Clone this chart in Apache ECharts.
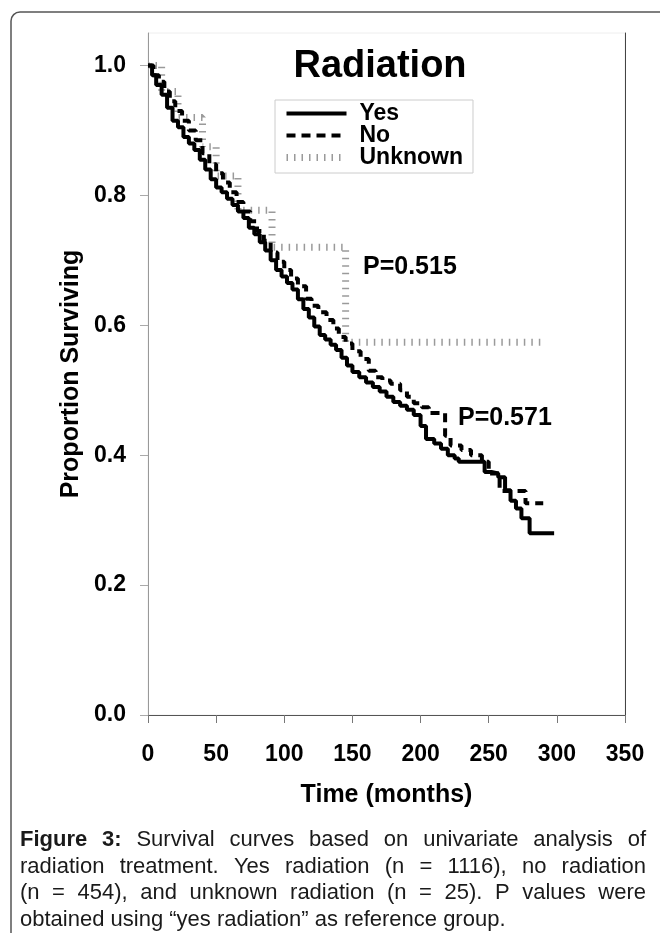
<!DOCTYPE html>
<html>
<head>
<meta charset="utf-8">
<script src="https://cdn.jsdelivr.net/npm/echarts@6/dist/echarts.min.js"></script>
<style>
  html, body { margin: 0; padding: 0; background: #fff; }
  #chart { width: 660px; height: 933px; }
</style>
</head>
<body>
<div id="chart"></div>
<script>
// tick values
var xTicks = [0, 50, 100, 150, 200, 250, 300, 350]
var yTicks = [0, 0.2, 0.4, 0.6, 0.8, 1.0]

// Kaplan-Meier curves (months, proportion surviving)
var yesTime = [0, 3, 6, 10, 14, 18, 22, 26, 30, 34, 38, 42, 46, 50, 54, 58, 62, 66, 70, 74, 78, 82, 86, 90, 94, 98, 102, 106, 110, 114, 118, 122, 126, 130, 134, 138, 142, 146, 150, 155, 160, 165, 170, 175, 180, 185, 190, 195, 200, 204, 210, 215, 220, 225, 228, 242, 247, 252, 257, 262, 266, 270, 274, 280, 298]
var yesSurv = [1.0, 0.985, 0.97, 0.955, 0.935, 0.915, 0.905, 0.89, 0.88, 0.87, 0.855, 0.84, 0.825, 0.812, 0.805, 0.795, 0.785, 0.775, 0.765, 0.75, 0.74, 0.728, 0.715, 0.7, 0.685, 0.675, 0.665, 0.655, 0.64, 0.625, 0.612, 0.598, 0.585, 0.578, 0.57, 0.562, 0.55, 0.538, 0.528, 0.52, 0.512, 0.505, 0.498, 0.49, 0.482, 0.476, 0.47, 0.462, 0.445, 0.425, 0.418, 0.41, 0.4, 0.395, 0.39, 0.39, 0.374, 0.372, 0.366, 0.346, 0.33, 0.318, 0.303, 0.28, 0.28]

var noTime = [0, 4, 8, 12, 16, 20, 25, 30, 35, 40, 45, 50, 55, 60, 65, 70, 75, 80, 85, 90, 95, 100, 105, 110, 116, 120, 125, 131, 136, 140, 145, 150, 156, 162, 167, 172, 178, 185, 190, 195, 201, 206, 218, 222, 230, 237, 245, 250, 258, 265, 277, 290]
var noSurv = [1.0, 0.985, 0.975, 0.96, 0.945, 0.93, 0.915, 0.9, 0.885, 0.865, 0.848, 0.834, 0.82, 0.805, 0.79, 0.775, 0.76, 0.745, 0.73, 0.712, 0.698, 0.685, 0.672, 0.66, 0.641, 0.63, 0.62, 0.608, 0.595, 0.582, 0.572, 0.56, 0.548, 0.53, 0.52, 0.515, 0.51, 0.5, 0.49, 0.48, 0.474, 0.465, 0.43, 0.415, 0.408, 0.4, 0.39, 0.372, 0.345, 0.345, 0.326, 0.326]

var unkTime = [0, 10, 22, 40, 50, 66, 91, 145, 288]
var unkSurv = [1.0, 0.96, 0.92, 0.875, 0.83, 0.777, 0.72, 0.574, 0.574]

var seriesNames = ['Yes', 'No', 'Unknown']
var pLabels = ['P=0.515', 'P=0.571']

var FONT = '"Liberation Sans", Arial, sans-serif'

// line looks, shared by the curves and their legend keys
var yesLine = { color: '#000', width: 4, type: 'solid' }
var noLine = { color: '#000', width: 4, type: [9, 6], cap: 'butt' }
var unkLine = { color: '#9a9a9a', width: 7, type: [1.5, 6], cap: 'butt' }

function pairs(t, v) {
  return t.map(function (x, i) { return [x, v[i]] })
}

// caption, justified like the journal layout
var captionLines = [
  [{ t: 'Figure 3:', b: true }, { t: 'Survival curves based on univariate analysis of' }],
  [{ t: 'radiation treatment. Yes radiation (n = 1116), no radiation' }],
  [{ t: '(n = 454), and unknown radiation (n = 25). P values were' }],
  [{ t: 'obtained using \u201cyes radiation\u201d as reference group.', last: true }]
]
var measure = document.createElement('canvas').getContext('2d')
function captionGraphics(x0, x1, y0, lineH, size) {
  var out = []
  captionLines.forEach(function (line, li) {
    var words = []
    line.forEach(function (seg) {
      seg.t.split(' ').forEach(function (w) { words.push({ w: w, b: !!seg.b, last: !!seg.last }) })
    })
    var total = 0
    words.forEach(function (o) {
      measure.font = (o.b ? 'bold ' : '') + size + 'px ' + FONT
      o.width = measure.measureText(o.w).width
      total += o.width
    })
    measure.font = size + 'px ' + FONT
    var space = measure.measureText(' ').width
    if (!words[0].last) space = (x1 - x0 - total) / (words.length - 1)
    var x = x0
    words.forEach(function (o) {
      out.push({
        type: 'text', x: x, y: y0 + li * lineH, silent: true,
        style: { text: o.w, font: (o.b ? 'bold ' : '') + size + 'px ' + FONT, fill: '#1a1a1a', textVerticalAlign: 'middle' }
      })
      x += o.width + space
    })
  })
  return out
}

var chart = echarts.init(document.getElementById('chart'))

var boldAxis = { fontSize: 23, fontWeight: 'bold', color: '#000', fontFamily: FONT }
var axisName = { fontSize: 25, fontWeight: 'bold', color: '#000', fontFamily: FONT }

chart.setOption({
  animation: false,
  backgroundColor: '#fff',
  grid: { left: 148, right: 35, top: 33, bottom: 218, show: true, borderColor: '#eee', borderWidth: 1 },
  legend: {
    left: 275, top: 100, orient: 'vertical',
    data: [
      { name: seriesNames[0], lineStyle: yesLine },
      { name: seriesNames[1], lineStyle: noLine },
      { name: seriesNames[2], lineStyle: unkLine }
    ],
    itemWidth: 60, itemHeight: 18, itemGap: -1,
    padding: [2, 10, 4, 8],
    borderColor: '#ccc', borderWidth: 1,
    itemStyle: { opacity: 0 },
    textStyle: { fontSize: 23, fontWeight: 'bold', color: '#000', fontFamily: FONT, padding: [0, 0, 0, 8] }
  },
  xAxis: {
    type: 'value', min: 0, max: 350, interval: 50,
    name: 'Time (months)', nameLocation: 'middle', nameGap: 68,
    nameTextStyle: axisName,
    axisLine: { lineStyle: { color: '#555', width: 1 } },
    axisTick: { length: 8, lineStyle: { color: '#777' }, customValues: xTicks },
    axisLabel: Object.assign({ margin: 28, customValues: xTicks }, boldAxis),
    splitLine: { show: false }
  },
  yAxis: [{
    type: 'value', min: 0, max: 1.05,
    name: 'Proportion Surviving', nameLocation: 'middle', nameGap: 56,
    nameTextStyle: axisName,
    axisLine: { show: true, lineStyle: { color: '#999', width: 1 } },
    axisTick: { show: true, length: 8, lineStyle: { color: '#aaa' }, customValues: yTicks },
    axisLabel: Object.assign({ margin: 22, customValues: yTicks, formatter: function (v) { return v.toFixed(1) } }, boldAxis),
    splitLine: { show: false }
  }, {
    type: 'value', min: 0, max: 1.05, position: 'right',
    axisLine: { show: true, lineStyle: { color: '#444', width: 1 } },
    axisTick: { show: false }, axisLabel: { show: false }, splitLine: { show: false }
  }],
  series: [
    {
      name: 'Unknown', type: 'line', step: 'end', symbol: 'none', z: 1,
      data: pairs(unkTime, unkSurv),
      itemStyle: { color: unkLine.color },
      lineStyle: unkLine
    },
    {
      name: 'No', type: 'line', step: 'end', symbol: 'none', z: 2,
      data: pairs(noTime, noSurv),
      itemStyle: { color: '#000' },
      lineStyle: noLine
    },
    {
      name: 'Yes', type: 'line', step: 'end', symbol: 'none', z: 3,
      data: pairs(yesTime, yesSurv),
      itemStyle: { color: '#000' },
      lineStyle: yesLine
    }
  ],
  graphic: [
    {
      type: 'rect', silent: true, z: -1,
      shape: { x: 11, y: 12, width: 720, height: 1000, r: 9 },
      style: { fill: 'none', stroke: '#555', lineWidth: 1.5 }
    },
    {
      type: 'text', x: 380, y: 67, silent: true,
      style: { text: 'Radiation', font: 'bold 38px ' + FONT, fill: '#000', textAlign: 'center', textVerticalAlign: 'middle' }
    },
    {
      type: 'text', x: 363, y: 267, silent: true,
      style: { text: pLabels[0], font: 'bold 25px ' + FONT, fill: '#000', textVerticalAlign: 'middle' }
    },
    {
      type: 'text', x: 458, y: 418, silent: true,
      style: { text: pLabels[1], font: 'bold 25px ' + FONT, fill: '#000', textVerticalAlign: 'middle' }
    }
  ].concat(captionGraphics(20, 646, 840, 26.5, 22))
})
</script>
</body>
</html>
